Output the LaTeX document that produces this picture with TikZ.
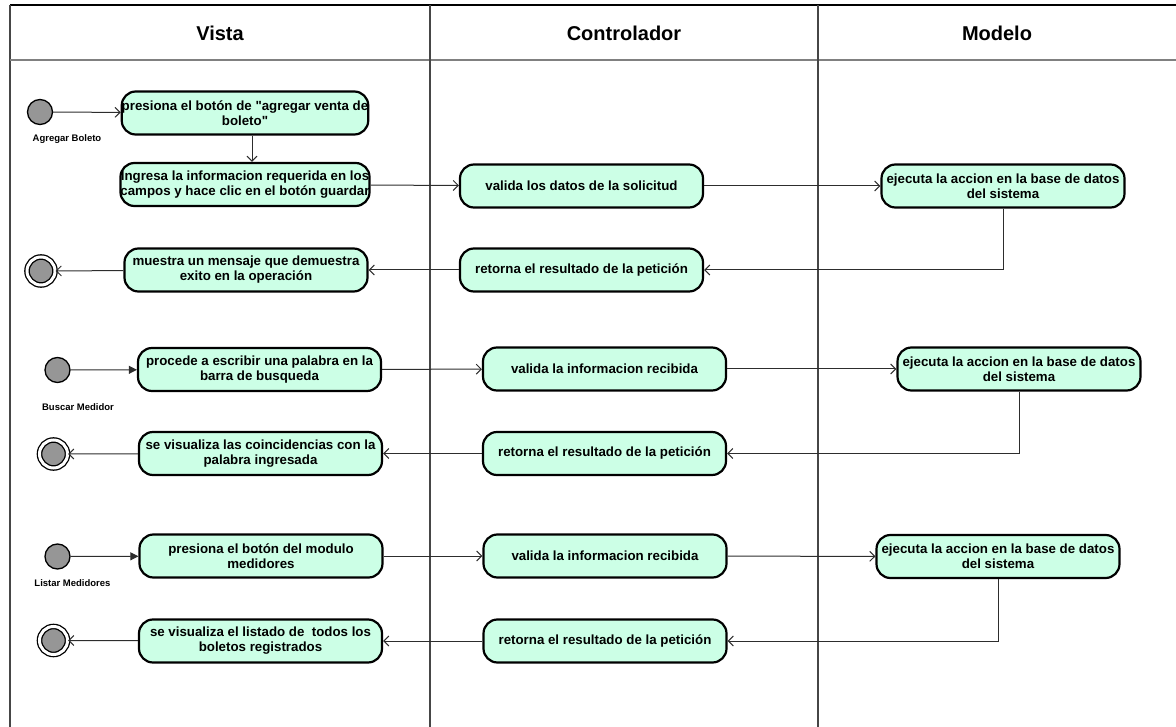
\documentclass[tikz,border=0pt]{standalone}
\usepackage{fontspec}
\setmainfont{Liberation Sans}
\usepackage{tikz}
\usetikzlibrary{shapes}
\usetikzlibrary{arrows.meta}
\definecolor{actgreen}{RGB}{204,255,230}
\definecolor{dotgray}{RGB}{150,150,150}
\definecolor{wiregray}{RGB}{45,45,45}
\definecolor{lanegray}{RGB}{70,70,70}
\tikzset{
  action/.style={draw=black, fill=actgreen, line width=2.2pt, rounded corners=14pt,
    minimum width=243pt, minimum height=43pt, inner sep=0pt, align=center,
    font=\bfseries\fontsize{13.3}{15}\selectfont},
  startdot/.style={circle, draw=black, fill=dotgray, line width=1.3pt, minimum size=25pt, inner sep=0pt},
  enddot/.style={circle, draw=black, fill=dotgray, line width=1.3pt, minimum size=28pt, inner sep=0pt,
    double=white, double distance=3pt},
  usecase/.style={font=\bfseries\fontsize{9.5}{11}\selectfont},
  lanetitle/.style={font=\bfseries\fontsize{20}{24}\selectfont},
  wire/.style={draw=wiregray, line width=1pt, -{Straight Barb[length=5pt,width=10pt]}},
  kickoff/.style={draw=wiregray, line width=1pt, -{Triangle[length=8pt,width=8pt]}}
}

\begin{document}
\begin{tikzpicture}[x=1pt,y=-1pt]
\useasboundingbox (0,0) rectangle (1176,727);
\draw[line width=1.5pt] (10,5) -- (1176,5);
\draw[line width=1.5pt, lanegray] (10,5) -- (10,727);
\draw[line width=2pt, gray] (10,60) -- (1176,60);
\draw[line width=2pt, lanegray] (430,5) -- (430,727);
\draw[line width=2pt, lanegray] (818,5) -- (818,727);
\node[lanetitle] (vista) at (220,33) {Vista};
\node[lanetitle] (controlador) at (624,33) {Controlador};
\node[lanetitle] (modelo) at (997,33) {Modelo};

\node[startdot] (s1) at (40,112) {};
\node[usecase] (u1) at (67,139) {Agregar Boleto};
\node[action] (a1) at (245,113) {presiona el botón de \textquotedbl agregar venta de\\boleto\textquotedbl};
\node[action] (a2) at (245,184.5) {Ingresa la informacion requerida en los\\campos y hace clic en el botón guardar};
\node[action] (c1) at (581.5,186) {valida los datos de la solicitud};
\node[action] (m1) at (1003,186) {ejecuta la accion en la base de datos\\del sistema};
\node[action] (c2) at (581.5,270) {retorna el resultado de la petición};
\node[action] (a3) at (246,270) {muestra un mensaje que demuestra\\exito en la operación};
\node[enddot] (e1) at (41,271) {};
\draw[wire] (s1) -- (a1);
\draw[wire] ([xshift=7pt]a1.south) -- ([xshift=7pt]a2.north);
\draw[wire] (a2) -- (c1);
\draw[wire] (c1) -- (m1);
\draw[wire] (m1.south) |- (c2.east);
\draw[wire] (c2) -- (a3);
\draw[wire] (a3) -- (e1);

\node[startdot] (s2) at (57.5,370) {};
\node[usecase] (u2) at (78,407) {Buscar Medidor};
\node[action] (b1) at (259.5,369.5) {procede a escribir una palabra en la\\barra de busqueda};
\node[action] (c3) at (604.5,369) {valida la informacion recibida};
\node[action] (m2) at (1019,369) {ejecuta la accion en la base de datos\\del sistema};
\node[action] (c4) at (604.5,453.5) {retorna el resultado de la petición};
\node[action] (b2) at (260.5,453.5) {se visualiza las coincidencias con la\\palabra ingresada};
\node[enddot] (e2) at (53.5,454) {};
\draw[kickoff] (s2) -- (b1);
\draw[wire] (b1) -- (c3);
\draw[wire] (c3) -- (m2);
\draw[wire] (m2.south) |- (c4.east);
\draw[wire] (c4) -- (b2);
\draw[wire] (b2) -- (e2);

\node[startdot] (s3) at (57.5,556.5) {};
\node[usecase] (u3) at (72.5,583) {Listar Medidores};
\node[action] (l1) at (261,556) {presiona el botón del modulo\\medidores};
\node[action] (c5) at (605,556) {valida la informacion recibida};
\node[action] (m3) at (998,556.5) {ejecuta la accion en la base de datos\\del sistema};
\node[action] (c6) at (605,641) {retorna el resultado de la petición};
\node[action] (l2) at (260.5,641) {se visualiza el listado de~ todos los\\boletos registrados};
\node[enddot] (e3) at (53.5,640.5) {};
\draw[kickoff] (s3) -- (l1);
\draw[wire] (l1) -- (c5);
\draw[wire] (c5) -- (m3);
\draw[wire] (m3.south) |- (c6.east);
\draw[wire] (c6) -- (l2);
\draw[wire] (l2) -- (e3);
\end{tikzpicture}
\end{document}
